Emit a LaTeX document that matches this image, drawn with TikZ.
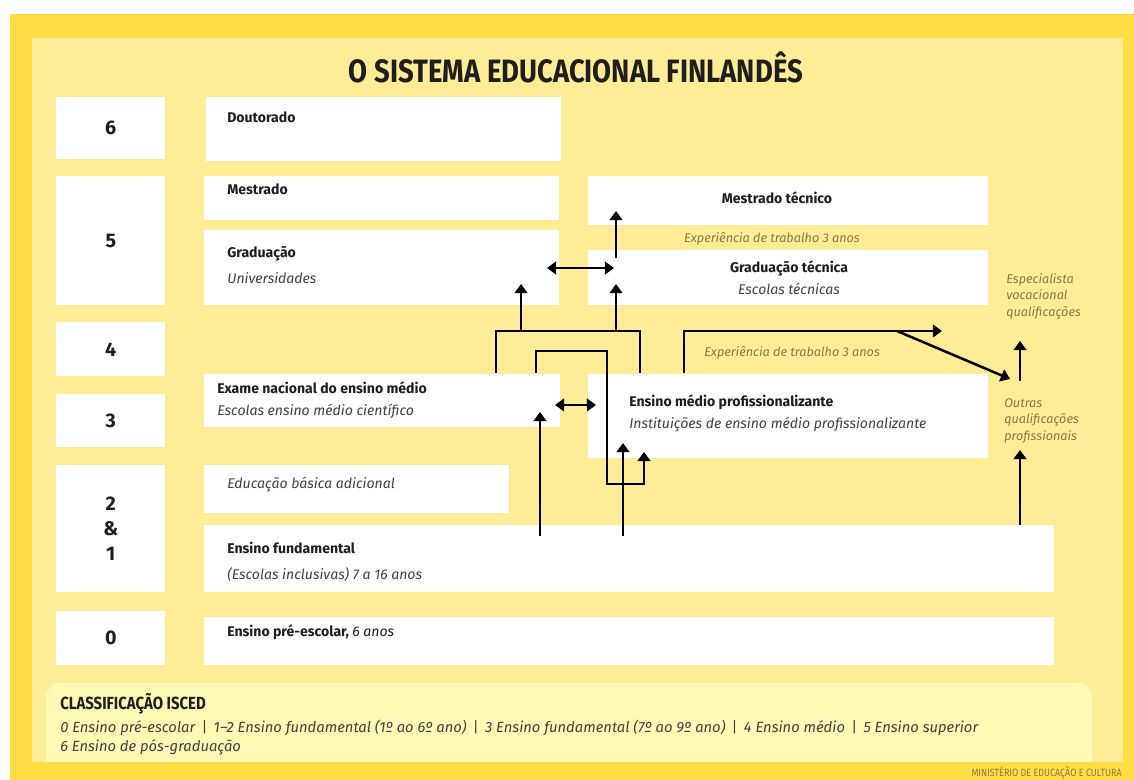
\documentclass[tikz,border=0pt]{standalone}
\usepackage{fontspec}
\setmainfont{Fira Sans}
\newfontfamily\estreita[FakeStretch=0.85]{Fira Sans}
\usetikzlibrary{arrows.meta}
\definecolor{ouro}{HTML}{FFDE45}
\definecolor{palha}{HTML}{FEEC97}
\definecolor{creme}{HTML}{FFFBB7}
\definecolor{oliva}{HTML}{857A45}
\definecolor{tinta}{HTML}{1E1E1E}
\newcommand\barra{\ \,{\upshape|}\,\ }
\tikzset{
  caixa/.style={fill=white, inner sep=0pt, anchor=north west},
  tam/.style 2 args={minimum width=#1*0.025cm, minimum height=#2*0.025cm},
  nivel/.style={caixa, text=tinta, font=\fontsize{14}{18}\selectfont\bfseries, align=center},
  titulo/.style={anchor=base west, inner sep=0pt, text=tinta, font=\fontsize{10}{12}\selectfont\bfseries},
  sub/.style={anchor=base west, inner sep=0pt, text=tinta!85, font=\fontsize{10}{12}\selectfont\itshape},
  nota/.style={anchor=base west, inner sep=0pt, text=oliva, font=\fontsize{9}{11.7}\selectfont\itshape, align=left},
  seta/.style={line width=1.8pt, -{Triangle[width=9pt,length=6.5pt]}},
  duasetas/.style={line width=1.8pt, {Triangle[width=9pt,length=6.5pt]}-{Triangle[width=9pt,length=6.5pt]}},
  linha/.style={line width=1.8pt}
}
\begin{document}
\begin{tikzpicture}[x=0.025cm,y=-0.025cm]
        \useasboundingbox (0,0) rectangle (1134,780);
        \fill[white] (0,0) rectangle (1134,780);
        \fill[ouro] (10,14) rectangle (1134,780);
        \fill[palha] (32,38) rectangle (1123,762);
        \fill[creme, rounded corners=10pt] (46,683) rectangle (1092,800);
        \fill[ouro] (10,762) rectangle (1134,780);

        \node[anchor=base, inner sep=0pt, text=tinta, font=\estreita\fontsize{23}{25}\selectfont\bfseries] (tit) at (576,83) {O SISTEMA EDUCACIONAL FINLANDÊS};

        \node[nivel, tam={109}{62}] (n6) at (56,97) {6};
        \node[nivel, tam={109}{129}] (n5) at (56,176) {5};
        \node[nivel, tam={109}{54}] (n4) at (56,322) {4};
        \node[nivel, tam={109}{53}] (n3) at (56,394) {3};
        \node[nivel, tam={109}{127}] (n21) at (56,465) {2\\\&\\1};
        \node[nivel, tam={109}{54}] (n0) at (56,611) {0};

        \node[caixa, tam={355}{64}] (dout) at (206,97) {};
        \node[caixa, tam={355}{44}] (mest) at (204,176) {};
        \node[caixa, tam={355}{75}] (grad) at (204,230) {};
        \node[caixa, tam={400}{49}] (mtec) at (588,176) {};
        \node[caixa, tam={400}{55}] (gtec) at (588,250) {};
        \node[caixa, tam={356}{53}] (exame) at (204,374) {};
        \node[caixa, tam={400}{84}] (prof) at (588,374) {};
        \node[caixa, tam={305}{48}] (adic) at (204,465) {};
        \node[caixa, tam={850}{67}] (fund) at (204,525) {};
        \node[caixa, tam={850}{48}] (pre) at (204,617) {};

        \node[titulo] (ldout) at (227,123) {Doutorado};
        \node[titulo] (lmest) at (227,195) {Mestrado};
        \node[titulo] (lgrad) at (227,258) {Graduação};
        \node[sub] (lgrad2) at (227,284) {Universidades};
        \node[titulo, anchor=base] (lmtec) at (777,204) {Mestrado técnico};
        \node[titulo, anchor=base] (lgtec) at (789,273) {Graduação técnica};
        \node[sub, anchor=base] (lgtec2) at (789,295) {Escolas técnicas};
        \node[titulo] (lexame) at (217,394) {Exame nacional do ensino médio};
        \node[sub] (lexame2) at (217,416) {Escolas ensino médio científico};
        \node[titulo] (lprof) at (629,407) {Ensino médio profissionalizante};
        \node[sub] (lprof2) at (629,429) {Instituições de ensino médio profissionalizante};
        \node[sub] (ladic) at (227,489) {Educação básica adicional};
        \node[titulo] (lfund) at (227,554) {Ensino fundamental};
        \node[sub] (lfund2) at (227,580) {(Escolas inclusivas) 7 a 16 anos};
        \node[titulo] (lpre) at (227,637) {Ensino pré-escolar, {\mdseries\itshape 6 anos}};

        \node[nota, anchor=base] (exp1) at (772,243) {Experiência de trabalho 3 anos};
        \node[nota] (exp2) at (704,357) {Experiência de trabalho 3 anos};
        \node[nota, anchor=north west] (esp) at (1006,273) {Especialista\\vocacional\\qualificações};
        \node[nota, anchor=north west] (outr) at (1004,398) {Outras\\qualificações\\profissionais};

        \coordinate (gt) at (616,258);
        \coordinate (mt) at (616,211);
        \coordinate (ga) at (547,268);
        \coordinate (gb) at (614,268);
        \coordinate (c1) at (496,373);
        \coordinate (c2) at (640,373);
        \coordinate (c3) at (521,331);
        \coordinate (c4) at (616,331);
        \coordinate (u1) at (521,284);
        \coordinate (u2) at (616,284);
        \coordinate (d1) at (536,373);
        \coordinate (d2) at (607,351);
        \coordinate (d3) at (644,484);
        \coordinate (d4) at (644,452);
        \coordinate (f1) at (540,536);
        \coordinate (e1) at (540,412);
        \coordinate (f2) at (623,536);
        \coordinate (e2) at (623,443);
        \coordinate (x1) at (555,405);
        \coordinate (x2) at (596,405);
        \coordinate (p1) at (684,373);
        \coordinate (p2) at (942,331);
        \coordinate (p3) at (897,331);
        \coordinate (p4) at (1010,379);
        \coordinate (q1) at (1020,381);
        \coordinate (q2) at (1020,341);
        \coordinate (q3) at (1020,525);
        \coordinate (q4) at (1020,450);

        \draw[seta] (gt) -- (mt);
        \draw[duasetas] (ga) -- (gb);
        \draw[linha] (c1) |- (c2 |- c4) -- (c2);
        \draw[seta] (c3) -- (u1);
        \draw[seta] (c4) -- (u2);
        \draw[seta] (d1) |- (d2) |- (d3) -- (d4);
        \draw[seta] (f1) -- (e1);
        \draw[seta] (f2) -- (e2);
        \draw[duasetas] (x1) -- (x2);
        \draw[seta] (p1) |- (p2);
        \draw[seta] (p3) -- (p4);
        \draw[seta] (q1) -- (q2);
        \draw[seta] (q3) -- (q4);

        \node[anchor=base west, inner sep=0pt, text=tinta, font=\estreita\fontsize{12.5}{14}\selectfont\bfseries] (isced) at (60,710) {CLASSIFICAÇÃO ISCED};
        \node[sub, font=\fontsize{10.5}{13}\selectfont\itshape] (isced1) at (60,733) {0 Ensino pré-escolar\barra 1–2 Ensino fundamental (1º ao 6º ano)\barra 3 Ensino fundamental (7º ao 9º ano)\barra 4 Ensino médio\barra 5 Ensino superior};
        \node[sub, font=\fontsize{10.5}{13}\selectfont\itshape] (isced2) at (60,751) {6 Ensino de pós-graduação};
        \node[anchor=base east, inner sep=0pt, text=oliva, font=\estreita\fontsize{7.5}{8}\selectfont] (cred) at (1122,776) {MINISTÉRIO DE EDUCAÇÃO E CULTURA};
\end{tikzpicture}
\end{document}
